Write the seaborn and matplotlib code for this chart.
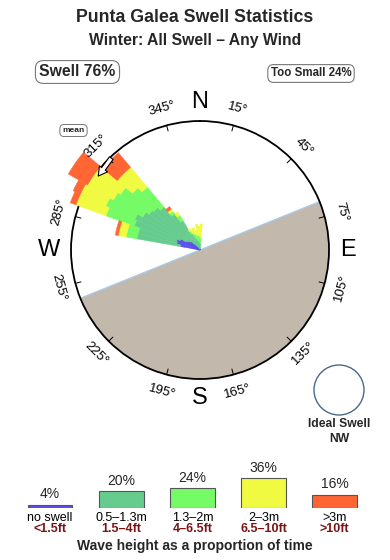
import numpy as np
import matplotlib
matplotlib.use("Agg")
import matplotlib.pyplot as plt
from matplotlib.patches import Circle
import seaborn as sns

# ---------------- data ----------------
DIR_START = [280, 285, 290, 295, 300, 305, 310, 315, 320, 325, 330, 335, 340, 345, 350, 355, 0]
BIN_WIDTH = 5
SEG_NOSWELL = [20, 24, 25, 22, 16, 14, 12, 8, 5, 4, 3, 2, 2, 1, 1, 1, 1]
SEG_SMALL   = [44, 40, 45, 50, 50, 48, 48, 48, 39, 30, 15, 13, 10, 9, 8, 7, 5]
SEG_MEDIUM  = [11, 11, 30, 32, 34, 35, 28, 26, 3, 6, 3, 3, 5, 5, 6, 6, 6]
SEG_LARGE   = [8, 8, 32, 28, 30, 33, 20, 26, 3, 4, 3, 4, 6, 5, 11, 10, 14]
SEG_XLARGE  = [3, 3, 6, 8, 22, 22, 19, 19, 3, 0, 0, 0, 0, 0, 0, 0, 0]
R_MAX = 129

LAND_FROM, LAND_TO = 68, 248
MEAN_DIR_FROM, MEAN_DIR_TO = 316, 306

TICK_ANGLES = [15, 45, 75, 105, 135, 165, 195, 225, 255, 285, 315, 345]
COMPASS = ["N", "E", "S", "W"]
COMPASS_ANGLES = [0, 90, 180, 270]

LEG_CATS = ["no swell", "0.5\u20131.3m", "1.3\u20132m", "2\u20133m", ">3m"]
LEG_FT = ["<1.5ft", "1.5\u20134ft", "4\u20136.5ft", "6.5\u201310ft", ">10ft"]
LEG_PCT = [4, 20, 24, 36, 16]
COLORS = ["#5b4cf0", "#66cc8e", "#74fb66", "#f0fa40", "#ff6633"]
LAND_COLOR = "#c2b8ab"

TITLE = "Punta Galea Swell Statistics"
SUBTITLE = "Winter: All Swell \u2013 Any Wind"

# ---------------- style ----------------
sns.set_theme(style="white")
plt.rcParams["font.family"] = ["Liberation Sans", "DejaVu Sans"]

W, H = 390, 560
fig = plt.figure(figsize=(W / 100, H / 100), dpi=100)
fig.patch.set_facecolor("white")

def fx(px):
    return px / W

def fy(py):
    return 1 - py / H

# ---------------- rose ----------------
cx, cy, rad = 200, 250, 129
ax = fig.add_axes([fx(cx - rad), fy(cy + rad), 2 * rad / W, 2 * rad / H], projection="polar")
ax.set_theta_zero_location("N")
ax.set_theta_direction(-1)
ax.set_ylim(0, R_MAX)
ax.set_xticks([])
ax.set_yticks([])
ax.grid(False)
ax.set_facecolor("white")
ax.spines["polar"].set_linewidth(1.3)
ax.spines["polar"].set_color("black")

# land
ax.bar(np.deg2rad((LAND_FROM + LAND_TO) / 2), R_MAX, width=np.deg2rad(LAND_TO - LAND_FROM),
       bottom=0, color=LAND_COLOR, linewidth=0, zorder=1)
ax.plot(np.deg2rad([LAND_FROM, LAND_FROM, LAND_TO]), [R_MAX, 0, R_MAX],
        color="#a9c9e6", lw=1.0, zorder=2)

# stacked bars
segs = [SEG_NOSWELL, SEG_SMALL, SEG_MEDIUM, SEG_LARGE, SEG_XLARGE]
theta = np.deg2rad(DIR_START)
bottom = np.zeros(len(DIR_START))
for seg, col in zip(segs, COLORS):
    seg = np.array(seg, dtype=float)
    keep = seg > 0
    ax.bar(theta[keep], seg[keep], width=np.deg2rad(BIN_WIDTH), bottom=bottom[keep], align="edge",
           color=col, edgecolor=col, linewidth=0.35, zorder=3, clip_on=False)
    bottom += seg

# ticks and degree labels
for a in TICK_ANGLES:
    t = np.deg2rad(a)
    ax.plot([t, t], [R_MAX * 0.955, R_MAX], color="black", lw=0.7, zorder=4)
    rot = -a
    if 90 < a < 270:
        rot += 180
    ax.text(t, R_MAX * 1.135, f"{a}\u00b0", rotation=rot, rotation_mode="anchor",
            ha="center", va="center", fontsize=9.5, color="black")

for lab, a in zip(COMPASS, COMPASS_ANGLES):
    rr = 1.17 if lab == "W" else 1.15
    ax.text(np.deg2rad(a), R_MAX * rr, lab, ha="center", va="center",
            fontsize=17, color="black")

# mean arrow
ax.annotate("", xy=(np.deg2rad(MEAN_DIR_TO), R_MAX * 0.975),
            xytext=(np.deg2rad(MEAN_DIR_FROM), R_MAX * 0.99),
            arrowprops=dict(arrowstyle="simple,head_length=0.8,head_width=0.9,tail_width=0.4",
                            fc="white", ec="black", lw=0.8, mutation_scale=8,
                            shrinkA=0, shrinkB=0),
            annotation_clip=False, zorder=6)

# ---------------- text ----------------
fig.text(0.5, fy(18), TITLE, ha="center", va="center", fontsize=12.8, fontweight="bold")
fig.text(0.5, fy(41), SUBTITLE, ha="center", va="center", fontsize=11.3, fontweight="bold")

box = dict(boxstyle="round,pad=0.25,rounding_size=0.5", fc="white", ec="#777777", lw=0.8)
fig.text(fx(77.5), fy(72), "Swell 76%", ha="center", va="center", fontsize=11.3,
         fontweight="bold", bbox=box)
fig.text(fx(311), fy(73.5), "Too Small 24%", ha="center", va="center", fontsize=8.3,
         fontweight="bold", bbox=box)
fig.text(fx(73.5), fy(130.5), "mean", ha="center", va="center", fontsize=6,
         fontweight="bold", bbox=dict(boxstyle="round,pad=0.3,rounding_size=0.5",
                                       fc="white", ec="#777777", lw=0.7))

# ideal swell
iax = fig.add_axes([fx(312), fy(417), 54 / W, 54 / H])
iax.set_xlim(-1.08, 1.08)
iax.set_ylim(-1.08, 1.08)
iax.set_aspect("equal")
iax.axis("off")
iax.add_patch(Circle((0, 0), 1.0, fill=False, ec="#4b6888", lw=1.0))
fig.text(fx(339), fy(424), "Ideal Swell", ha="center", va="center", fontsize=8.7, fontweight="bold")
fig.text(fx(339), fy(439), "NW", ha="center", va="center", fontsize=8.7, fontweight="bold")

# ---------------- legend ----------------
lax = fig.add_axes([fx(14.4), fy(508), 356 / W, 40 / H])
sns.barplot(x=LEG_CATS, y=LEG_PCT, hue=LEG_CATS, palette=COLORS, legend=False,
            width=0.63, edgecolor="#555555", linewidth=0.8, saturation=1, ax=lax)
lax.set_xlim(-0.5, len(LEG_CATS) - 0.5)
lax.set_ylim(0, 48)
lax.axis("off")
for i, p in enumerate(LEG_PCT):
    lax.annotate(f"{p}%", (i, p), xytext=(0, 2.5), textcoords="offset points",
                 ha="center", va="bottom", fontsize=10)
tr = lax.get_xaxis_transform()
for i, (c, f) in enumerate(zip(LEG_CATS, LEG_FT)):
    lax.text(i, -10 / 40, c, transform=tr, ha="center", va="center", fontsize=9,
             color="black")
    lax.text(i, -21.5 / 40, f, transform=tr, ha="center", va="center", fontsize=9,
             fontweight="bold", color="#7a1414")
fig.text(0.5, fy(546), "Wave height as a proportion of time", ha="center", va="center",
         fontsize=10, fontweight="bold")

fig.savefig("out.png", dpi=100, facecolor="white")
